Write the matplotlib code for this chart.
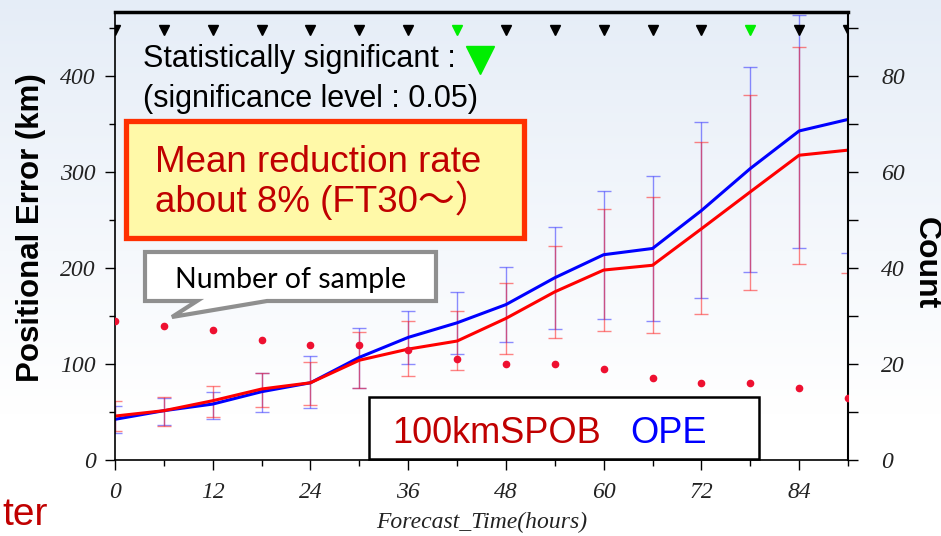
import matplotlib
matplotlib.use("Agg")
import matplotlib.pyplot as plt
import numpy as np
from matplotlib.patches import Rectangle, Polygon
from matplotlib.ticker import MultipleLocator

W, H = 941, 536

# forecast hours
hours = [0, 6, 12, 18, 24, 30, 36, 42, 48, 54, 60, 66, 72, 78, 84, 90]
# mean positional error (km)
ope = [42.4, 51.4, 58.3, 71.2, 80.5, 107, 127.8, 143, 162, 190, 214, 220.5, 260, 303.8, 343, 355]
spob = [45.8, 51.4, 61.8, 74, 80.5, 104, 115.6, 124, 147.6, 175.3, 198, 203, 241, 279.5, 317.7, 323]
# error bar ends
ope_hi = [56, 65, 71, 91, 108, 138, 155.5, 175, 200.7, 243, 280.5, 296, 352, 410, 464, 500]
ope_lo = [28.5, 37, 42.4, 49.7, 53.8, 74.6, 100, 110, 122.6, 137, 146.5, 144.8, 168.4, 195.5, 221, 216]
spob_hi = [61.8, 66, 77, 91, 102.4, 133.7, 144.8, 155.5, 185, 223, 261.5, 274, 331.6, 381, 431, 480]
spob_lo = [30, 35, 45, 55, 57, 74.6, 87.8, 93.75, 110, 127, 134.7, 132, 152, 177, 204, 194.5]
# number of samples
count = [29, 28, 27, 25, 24, 24, 23, 21, 20, 20, 19, 17, 16, 16, 15, 13]
# statistically significant flags
sig = [0, 0, 0, 0, 0, 0, 0, 1, 0, 0, 0, 0, 0, 1, 0, 0]


def fx(x):
    return x / W


def fy(y):
    return 1 - y / H


fig = plt.figure(figsize=(W / 100, H / 100), dpi=100)

# slide background gradient
bg = fig.add_axes([0, 0, 1, 1], zorder=-5)
grad = np.linspace(0, 1, 256).reshape(-1, 1)
top = np.array([0.90, 0.93, 0.97])
bot = np.array([1.0, 1.0, 1.0])
img = top + (bot - top) * np.clip(grad * 1.3, 0, 1)[:, :, None] * np.ones((1, 1, 3))
bg.imshow(img.reshape(256, 1, 3), aspect="auto", extent=[0, 1, 0, 1])
bg.axis("off")

ax = fig.add_axes([fx(115), fy(460), (848 - 115) / W, (460 - 12) / H])
ax.patch.set_alpha(0)

h = np.array(hours)
ax.errorbar(h, ope, yerr=[np.array(ope) - np.array(ope_lo), np.array(ope_hi) - np.array(ope)],
            fmt="none", ecolor="#3030ff", elinewidth=1, capsize=5, alpha=0.55)
ax.errorbar(h, spob, yerr=[np.array(spob) - np.array(spob_lo), np.array(spob_hi) - np.array(spob)],
            fmt="none", ecolor="#ff2020", elinewidth=1, capsize=5, alpha=0.55)
ax.plot(hours, ope, color="#0000ff", lw=2.2)
ax.plot(hours, spob, color="#ff0000", lw=2.2)

# significance markers on top
for hr, s in zip(hours, sig):
    ax.plot(hr, 448, marker="v", ms=7, color="#00ee00" if s else "black", ls="none")

ax.set_xlim(0, 90)
ax.set_ylim(0, 467)
ax.xaxis.set_major_locator(MultipleLocator(12))
ax.xaxis.set_minor_locator(MultipleLocator(6))
ax.yaxis.set_major_locator(MultipleLocator(100))
ax.yaxis.set_minor_locator(MultipleLocator(50))
ax.tick_params(which="major", direction="out", length=7, width=1, pad=7)
ax.tick_params(which="minor", direction="out", length=4, width=1)
ax.tick_params(axis="x", pad=9)
for lab in ax.get_xticklabels() + ax.get_yticklabels():
    lab.set_fontfamily("Liberation Serif")
    lab.set_fontstyle("italic")
    lab.set_fontsize(17)
    lab.set_color("#222222")
ax.spines["top"].set_linewidth(2.5)
ax.spines["left"].set_linewidth(1.2)
ax.spines["bottom"].set_linewidth(1.2)
ax.spines["right"].set_linewidth(1.5)

ax2 = ax.twinx()
ax2.plot(hours, count, "o", color="#ee1030", ms=4.5, ls="none")
ax2.set_ylim(0, 467 / 5)
ax2.yaxis.set_major_locator(MultipleLocator(20))
ax2.yaxis.set_minor_locator(MultipleLocator(10))
ax2.tick_params(which="major", direction="out", length=7, width=1, pad=17)
ax2.tick_params(which="minor", direction="out", length=7, width=1)
for lab in ax2.get_yticklabels():
    lab.set_fontfamily("Liberation Serif")
    lab.set_fontstyle("italic")
    lab.set_fontsize(17)
    lab.set_color("#222222")
for sp in ax2.spines.values():
    sp.set_visible(False)

# axis labels
fig.text(fx(31), fy(228), "Positional Error (km)", rotation=90, ha="center", va="center",
         fontsize=22.5, fontweight="bold", family="Liberation Sans")
fig.text(fx(926), fy(263), "Count", rotation=270, ha="center", va="center",
         fontsize=23, fontweight="bold", family="Liberation Sans")
fig.text(fx(482), fy(528), "Forecast_Time(hours)", ha="center", va="baseline",
         fontsize=17, style="italic", family="Liberation Serif", color="#222222")

# significance note
fig.text(fx(143), fy(67), "Statistically significant :", ha="left", va="baseline",
         fontsize=22, family="Liberation Sans")
fig.add_artist(plt.Line2D([fx(480)], [fy(60)], marker="v", ms=20, color="#00ee00",
                          transform=fig.transFigure))
fig.text(fx(143), fy(107), "(significance level : 0.05)", ha="left", va="baseline",
         fontsize=22, family="Liberation Sans")

# yellow box
fig.add_artist(Rectangle((fx(126.5), fy(237.5)), (524.5 - 126.5) / W, (237.5 - 120.5) / H,
                         transform=fig.transFigure, facecolor="#fff9a8", edgecolor="#ff3000", lw=3.8))
fig.text(fx(155), fy(172), "Mean reduction rate", ha="left", va="baseline",
         fontsize=26.5, color="#c00000", family=["Liberation Sans", "Noto Sans CJK JP"])
fig.text(fx(155), fy(212), "about 8% (FT30～）", ha="left", va="baseline",
         fontsize=26.5, color="#c00000", family=["Liberation Sans", "Noto Sans CJK JP"])

# callout
pts = [(145, 252), (436, 252), (436, 301), (267, 301), (172, 317), (197, 301), (145, 301)]
fig.add_artist(Polygon([(fx(x), fy(y)) for x, y in pts], closed=True, transform=fig.transFigure,
                       facecolor="white", edgecolor="#8f8f8f", lw=3, joinstyle="miter"))
fig.text(fx(291), fy(280), "Number of sample", ha="center", va="center",
         fontsize=20.5, family="Lato")

# legend box
fig.add_artist(Rectangle((fx(369), fy(459)), (759 - 369) / W, (459 - 397) / H,
                         transform=fig.transFigure, facecolor="white", edgecolor="black", lw=1.8))
fig.text(fx(392), fy(443), "100kmSPOB", ha="left", va="baseline",
         fontsize=26, color="#c00000", family="Liberation Sans")
fig.text(fx(630), fy(443), "OPE", ha="left", va="baseline",
         fontsize=26, color="#0000ff", family="Liberation Sans")

# slide text fragment
fig.text(fx(2), fy(525), "ter", ha="left", va="baseline",
         fontsize=28, color="#c00000", family="Liberation Sans")

fig.savefig("out.png", dpi=100)
